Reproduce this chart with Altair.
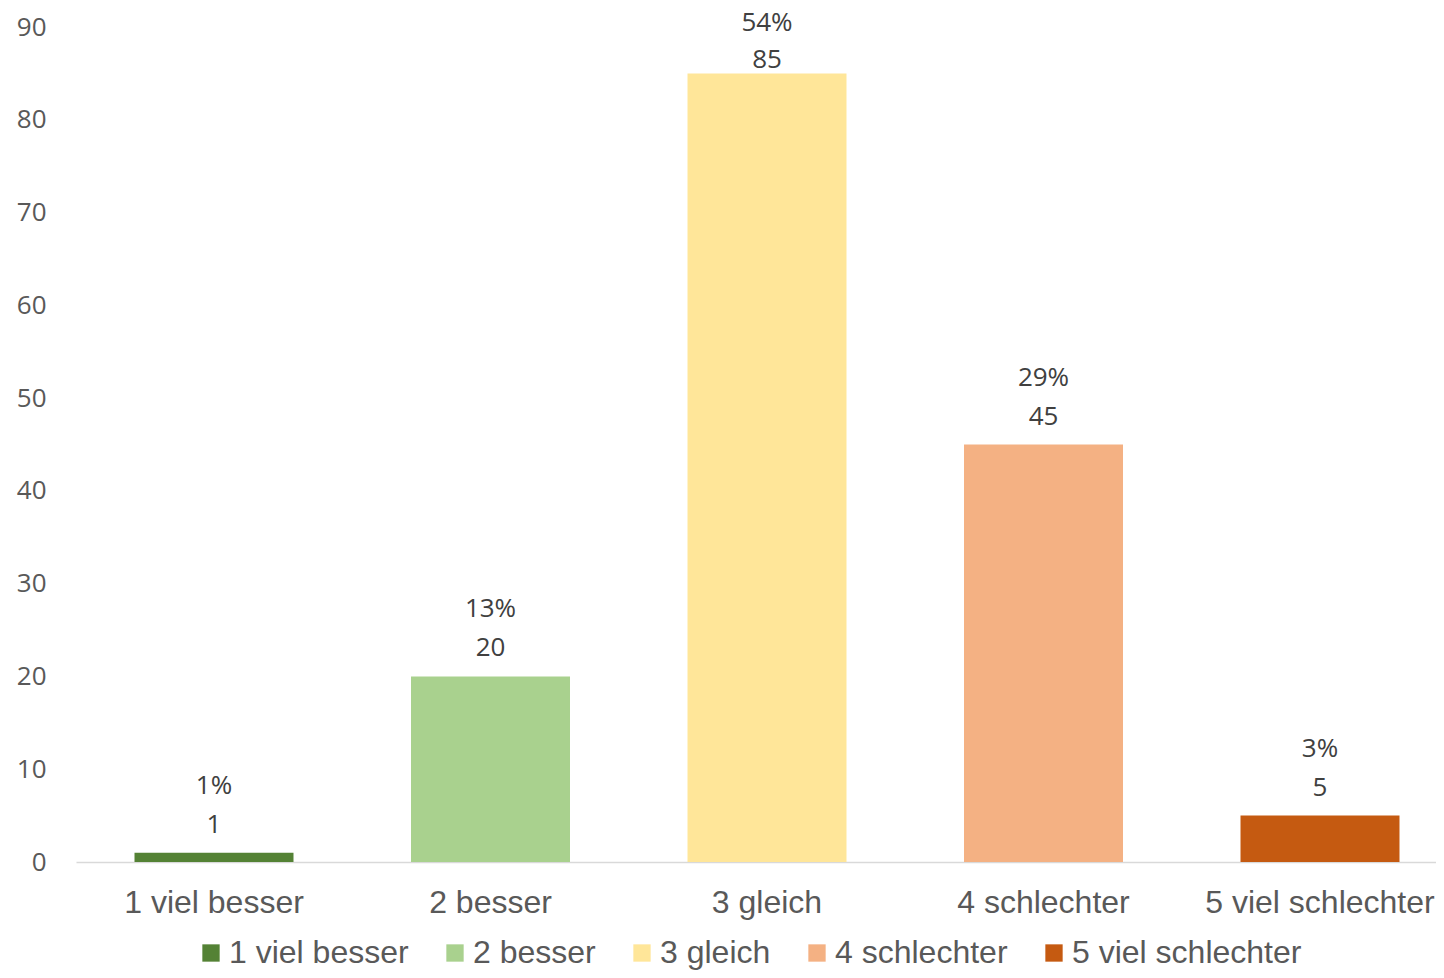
import altair as alt
import pandas as pd

categories = ["1 viel besser", "2 besser", "3 gleich", "4 schlechter", "5 viel schlechter"]
counts = [1, 20, 85, 45, 5]
percents = ["1%", "13%", "54%", "29%", "3%"]
colors = ["#548235", "#A9D18E", "#FFE699", "#F4B183", "#C55A11"]

df = pd.DataFrame({"cat": categories, "n": counts, "pct": percents})

LBL_FONT = "Liberation Sans, Arial, sans-serif"

x = alt.X("cat:N", sort=categories, title=None,
          scale=alt.Scale(paddingInner=0.425, paddingOuter=0.2116, range=[0, 1382]),
          axis=alt.Axis(labelAngle=0, labelFont=LBL_FONT, labelFontSize=32, labelLimit=400,
                        labelColor="#595959", labelBaseline="middle", labelPadding=40,
                        ticks=False, tickSize=0, domainColor="#D9D9D9", domainWidth=1.5))
y = alt.Y("n:Q", title=None, scale=alt.Scale(domain=[0, 90], nice=False),
          axis=alt.Axis(values=list(range(0, 91, 10)), grid=False, domain=False, ticks=False,
                        tickSize=0, labelFont="Open Sans", labelFontSize=26, labelColor="#595959",
                        labelPadding=30, labelBaseline="middle"))

color = alt.Color("cat:N", sort=categories,
                  scale=alt.Scale(domain=categories, range=colors),
                  legend=alt.Legend(title=None, orient="none", direction="horizontal",
                                    legendX=119, legendY=910, padding=0,
                                    symbolType="square", symbolSize=300, symbolStrokeWidth=0,
                                    labelFont=LBL_FONT, labelFontSize=32,
                                    labelColor="#595959", labelOffset=2, columnPadding=30,
                                    labelLimit=400))

bars = alt.Chart(df).mark_bar().encode(x=x, y=y, color=color)

def labels(flt, dy_n, dy_p):
    base = alt.Chart(df).transform_filter(flt)
    ln = base.mark_text(font="Open Sans", fontSize=26, color="#404040",
                        baseline="middle", dy=dy_n).encode(
        x=alt.X("cat:N", sort=categories), y="n:Q", text="n:Q")
    lp = base.mark_text(font="Open Sans", fontSize=26, color="#404040",
                        baseline="middle", dy=dy_p).encode(
        x=alt.X("cat:N", sort=categories), y="n:Q", text="pct:N")
    return ln + lp

chart = (bars + labels("datum.n < 80", -28, -67) + labels("datum.n >= 80", -13, -50)).properties(
    width=1360, height=835,
    autosize=alt.AutoSizeParams(type="none"),
    padding={"left": 68, "top": 19, "right": 0, "bottom": 108},
    background="white",
).configure_view(strokeWidth=0)

chart.save("out.html", embed_options={"renderer": "svg", "actions": False})
